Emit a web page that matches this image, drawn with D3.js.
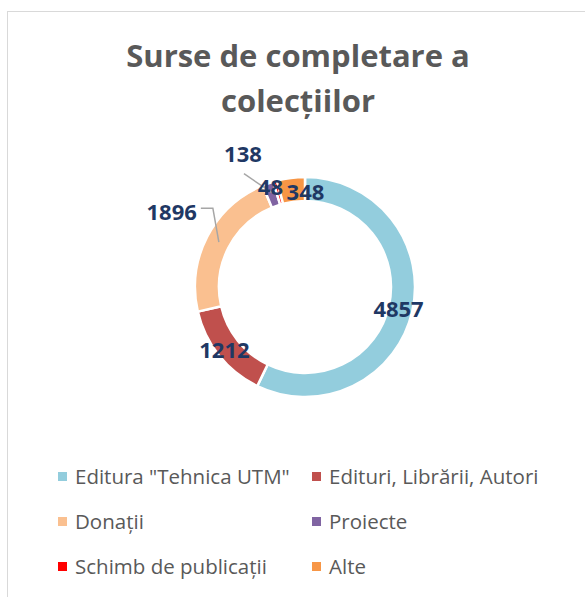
<!DOCTYPE html>
<html>
<head>
<meta charset="utf-8">
<script src="https://cdn.jsdelivr.net/npm/d3@7"></script>
<style>
  body { margin: 0; background: #fff; }
  svg { display: block; font-family: "Open Sans", sans-serif; }
</style>
</head>
<body>
<div class="canvas"></div>
<script>
// data
const categories = ['Editura "Tehnica UTM"', 'Edituri, Librării, Autori', 'Donații', 'Proiecte', 'Schimb de publicații', 'Alte'];
const values = [4857, 1212, 1896, 138, 48, 348];
const colors = ['#93cddd', '#c0504d', '#fac090', '#8064a2', '#ff0000', '#f79646'];

const titleLines = ['Surse de completare a', 'colecțiilor'];

// dimensions
const dims = { width: 585, height: 597, outer: 110, inner: 86 };
const cent = { x: 305, y: 287 };

// label nudges (dx, dy from the ring centroid), leader lines for the crowded ones
const labelNudge = [[-2, 0], [-4, 2], [-21, -30], [-29, -40], [-8, -5], [13, 2]];
const hasLeader = [false, false, true, true, false, false];

const svg = d3.select('.canvas')
    .append('svg')
    .attr('width', dims.width)
    .attr('height', dims.height);

// chart border
svg.append('rect')
    .attr('x', 7.5).attr('y', 11.5)
    .attr('width', dims.width + 20).attr('height', dims.height)
    .attr('fill', 'none')
    .attr('stroke', '#d9d9d9');

// title
svg.append('g')
    .selectAll('text')
    .data(titleLines)
    .enter()
    .append('text')
        .attr('x', 298)
        .attr('y', (d, i) => 67 + i * 45)
        .attr('text-anchor', 'middle')
        .attr('font-size', 31)
        .attr('font-weight', 'bold')
        .attr('fill', '#595959')
        .text(d => d);

const graph = svg.append('g')
    .attr('transform', `translate(${cent.x}, ${cent.y})`);

const pie = d3.pie()
    .sort(null)
    .value(d => d.value);

const data = categories.map((c, i) => ({ name: c, value: values[i], i }));

const arcPath = d3.arc()
    .outerRadius(dims.outer)
    .innerRadius(dims.inner);

const midArc = d3.arc()
    .outerRadius((dims.outer + dims.inner) / 2)
    .innerRadius((dims.outer + dims.inner) / 2);

const color = d3.scaleOrdinal().domain(categories).range(colors);

const slices = pie(data);

graph.selectAll('path.arc')
    .data(slices)
    .enter()
    .append('path')
        .attr('class', 'arc')
        .attr('d', arcPath)
        .attr('stroke', '#fff')
        .attr('stroke-width', 2.5)
        .attr('fill', d => color(d.data.name));

// leader lines
slices.forEach(d => {
    if (!hasLeader[d.data.i]) return;
    const [cx, cy] = midArc.centroid(d);
    const [dx, dy] = labelNudge[d.data.i];
    const pts = d.data.i === 2
        ? [[cx + 1, cy], [cx - 5, cy - 34], [cx - 17, cy - 34]]
        : [[cx, cy - 2], [cx + dx + 1, cy + dy + 19]];
    graph.append('path')
        .attr('d', d3.line()(pts))
        .attr('fill', 'none')
        .attr('stroke', '#a6a6a6')
        .attr('stroke-width', 1.5);
});

// data labels
graph.selectAll('text.lbl')
    .data(slices)
    .enter()
    .append('text')
        .attr('class', 'lbl')
        .attr('x', d => midArc.centroid(d)[0] + labelNudge[d.data.i][0])
        .attr('y', d => midArc.centroid(d)[1] + labelNudge[d.data.i][1])
        .attr('dy', '0.35em')
        .attr('text-anchor', d => d.data.i === 2 ? 'end' : 'middle')
        .attr('font-size', 22)
        .attr('font-weight', 'bold')
        .attr('fill', '#1f3864')
        .text(d => d.data.value);

// legend
const legend = svg.append('g')
    .selectAll('g')
    .data(categories)
    .enter()
    .append('g')
        .attr('transform', (d, i) => `translate(${i % 2 ? 312 : 58}, ${477 + Math.floor(i / 2) * 45})`);

legend.append('rect')
    .attr('x', 0).attr('y', -5)
    .attr('width', 9).attr('height', 9)
    .attr('fill', d => color(d));

legend.append('text')
    .attr('x', 17)
    .attr('dy', '0.35em')
    .attr('font-size', 20.5)
    .attr('fill', '#595959')
    .text(d => d);
</script>
</body>
</html>
